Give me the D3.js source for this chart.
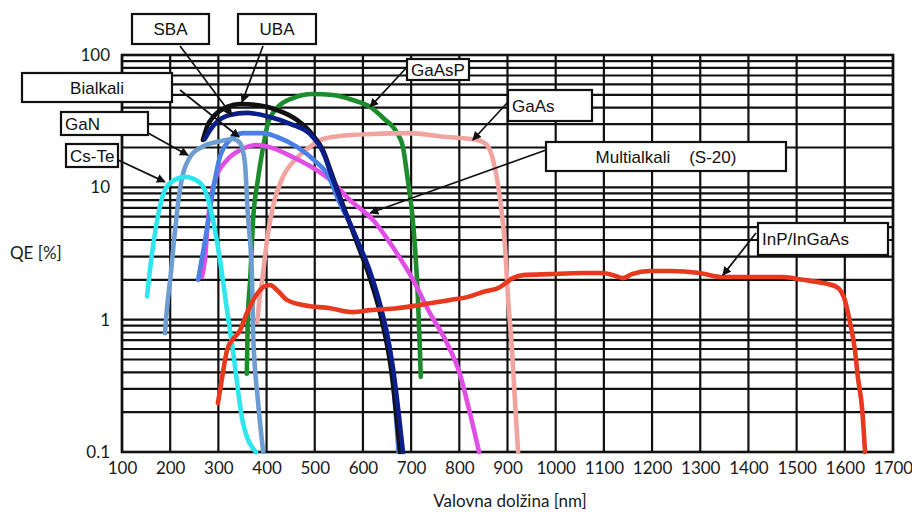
<!DOCTYPE html>
<html>
<head>
<meta charset="utf-8">
<script src="https://cdn.jsdelivr.net/npm/d3@7/dist/d3.min.js"></script>
<style>
  html, body { margin: 0; padding: 0; background: #fff; }
  svg { display: block; }
</style>
</head>
<body>
<svg id="chart" width="912" height="512"></svg>
<script>
// ---------- data ----------
const xTicks = [100,200,300,400,500,600,700,800,900,1000,1100,1200,1300,1400,1500,1600,1700];
const yTickLabels = [0.1, 1, 10, 100];
const yGridValues = [0.1,0.2,0.3,0.4,0.5,0.6,0.7,0.8,0.9,1,2,3,4,5,6,7,8,9,10,20,30,40,50,60,70,80,90,100];

const csTe = [[152,1.5],[158,2.37],[173,5.66],[185,8.75],[200,10.8],[231,12],[262,10.8],[283,7.1],[299,3.54],[320,1.05],[330,0.59],[351,0.166],[378,0.1]];
const gaN = [[189,0.79],[195,1.41],[200,2.0],[208,4.0],[220,9.5],[241,16.9],[266,20.2],[297,22],[330,23.2],[345,21.6],[355,15.3],[361,6.4],[370,2.0],[372,0.79],[382,0.247],[393,0.1]];
const bialkali = [[258,2.0],[276,4.76],[289,9.5],[303,16.9],[324,22.8],[351,25.7],[393,25.7],[422,24],[463,20.2],[505,15.3],[525,12.8],[552,7.6],[579,4.76],[608,2.5],[629,1.41],[656,0.59],[674,0.1]];
const sba = [[272,23.2],[283,27.1],[297,31.2],[324,35.2],[359,36.5],[407,34],[449,30.2],[490,25.3],[517,18.5],[538,11.4],[559,7.1],[588,4.0],[615,2.29],[642,1.05],[662,0.44],[683,0.1]];
const uba = [[268,22.8],[278,29.6],[289,34],[318,40.5],[345,42.6],[380,41.9],[422,38.4],[463,32.3],[496,24.8],[517,19.1],[536,12.4],[560,7.1],[587,3.86],[612,2.2],[639,1.0],[659,0.41],[677,0.1]];
const multialkali = [[266,2.1],[272,2.82],[278,5.37],[293,11.4],[318,16.1],[345,19.1],[380,20.9],[413,19.8],[455,16.9],[490,14.5],[532,11.4],[573,8.0],[621,5.66],[662,3.54],[704,2.0],[739,1.12],[774,0.67],[801,0.39],[822,0.197],[841,0.1]];
const gaAsP = [[359,0.39],[361,1.0],[366,2.0],[372,5.66],[382,11.4],[393,20.2],[403,30.6],[422,39.8],[455,47.3],[496,50.7],[538,49.9],[579,45.7],[615,40.5],[642,33.4],[671,25.7],[683,20.2],[693,11.4],[702,6.4],[708,3.54],[714,1.48],[718,0.62],[720,0.37]];
const gaAs = [[381,0.96],[385,1.41],[391,2.0],[401,4.0],[413,7.1],[434,12],[463,16.7],[490,20.2],[517,23.2],[552,24.4],[621,25.3],[691,25.7],[774,24],[837,22.8],[857,20.9],[870,16.1],[884,8.45],[895,3.54],[901,1.48],[909,0.62],[915,0.26],[922,0.1]];
const inGaAs = [[299,0.234],[308,0.37],[318,0.59],[330,0.71],[345,0.83],[359,1.12],[376,1.48],[393,1.76],[407,1.83],[422,1.67],[442,1.41],[476,1.29],[532,1.22],[579,1.14],[615,1.18],[671,1.22],[739,1.33],[781,1.41],[816,1.48],[849,1.62],[884,1.76],[911,2.06],[932,2.17],[988,2.21],[1057,2.25],[1098,2.25],[1119,2.17],[1140,2.06],[1158,2.21],[1196,2.33],[1237,2.33],[1299,2.25],[1347,2.1],[1403,2.1],[1472,2.1],[1513,2.0],[1555,1.89],[1584,1.76],[1600,1.41],[1611,0.94],[1621,0.59],[1627,0.37],[1636,0.21],[1642,0.1]];

const seriesNames = ["GaAsP","GaAs","Multialkali (S-20)","Bialkali","UBA","SBA","GaN","Cs-Te","InP/InGaAs"];
const seriesData  = [gaAsP, gaAs, multialkali, bialkali, uba, sba, gaN, csTe, inGaAs];
const seriesColors = ["#1c8c2c","#f1a3a0","#e04ee6","#4a7fe3","#111111","#0c1e8a","#6d9dd3","#2ee6ee","#e8381e"];

// annotation labels: text, and arrow tip in data units [nm, QE]
const labelTexts = ["SBA","UBA","Bialkali","GaN","Cs-Te","GaAsP","GaAs","Multialkali    (S-20)","InP/InGaAs"];
const arrowTips = [[328,35],[349,44],[343,24],[237,17.5],[189,11],[615,40.5],[828,22.8],[615,6.4],[1347,2.17]];

// ---------- layout ----------
const plot = {left: 122, right: 893, top: 55, bottom: 452};
const boxes = [
  {x:132, y:14, w:77, h:30, anchor:"middle", from:[180,46]},
  {x:238, y:14, w:78, h:30, anchor:"middle", from:[263,46]},
  {x:22,  y:73, w:150, h:29, anchor:"middle", from:[180,90]},
  {x:61,  y:112, w:87, h:23, anchor:"start", from:[148,133]},
  {x:66,  y:144, w:52, h:23, anchor:"start", from:[118,160]},
  {x:407, y:59, w:62, h:21, anchor:"start", from:[408,66]},
  {x:508, y:90, w:84, h:31, anchor:"start", from:[508,102]},
  {x:546, y:142, w:240, h:29, anchor:"middle", from:[546,150]},
  {x:758, y:223, w:130, h:32, anchor:"start", from:[756,233]}
];

const svg = d3.select("#chart");
const x = d3.scaleLinear().domain([100,1700]).range([plot.left, plot.right]);
const y = d3.scaleLog().domain([0.1,100]).range([plot.bottom, plot.top]);
const axisFont = "Lato, 'Open Sans', sans-serif";

// grid
const grid = svg.append("g").attr("stroke","#111").attr("stroke-width",2.2);
grid.selectAll("line.h").data(yGridValues).join("line")
  .attr("x1", plot.left).attr("x2", plot.right)
  .attr("y1", d => y(d)).attr("y2", d => y(d));
grid.selectAll("line.v").data(xTicks).join("line")
  .attr("y1", plot.top).attr("y2", plot.bottom)
  .attr("x1", d => x(d)).attr("x2", d => x(d));
svg.append("rect").attr("x",plot.left).attr("y",plot.top)
  .attr("width",plot.right-plot.left).attr("height",plot.bottom-plot.top)
  .attr("fill","none").attr("stroke","#111").attr("stroke-width",2.6);

// axes (labels only)
const xAxis = d3.axisBottom(x).tickValues(xTicks).tickSize(0).tickPadding(10).tickFormat(d3.format("d"));
const gx = svg.append("g").attr("transform",`translate(0,${plot.bottom})`).call(xAxis);
gx.select(".domain").remove();
gx.selectAll("text").attr("font-family",axisFont).attr("font-size",17).attr("fill","#1a1a1a");

const yAxis = d3.axisLeft(y).tickValues(yTickLabels).tickSize(0).tickPadding(12).tickFormat(d => d < 1 ? String(d) : d3.format("d")(d));
const gy = svg.append("g").attr("transform",`translate(${plot.left},0)`).call(yAxis);
gy.select(".domain").remove();
gy.selectAll("text").attr("font-family",axisFont).attr("font-size",17).attr("fill","#1a1a1a");

// axis titles
svg.append("text").attr("x",10).attr("y",259).text("QE [%]")
  .attr("font-family",axisFont).attr("font-size",17).attr("fill","#1a1a1a");
svg.append("text").attr("x",510).attr("y",507).attr("text-anchor","middle").text("Valovna dolžina [nm]")
  .attr("font-family",axisFont).attr("font-size",17).attr("fill","#1a1a1a");

// curves
const line = d3.line().x(d => x(d[0])).y(d => y(d[1])).curve(d3.curveMonotoneX);
svg.append("g").selectAll("path").data(seriesData).join("path")
  .attr("d", line)
  .attr("fill","none")
  .attr("stroke",(d,i) => seriesColors[i])
  .attr("stroke-width",4.6)
  .attr("stroke-linecap","round")
  .attr("stroke-linejoin","round");

// arrow marker
svg.append("defs").append("marker").attr("id","arr")
  .attr("viewBox","0 0 10 10").attr("refX",9).attr("refY",5)
  .attr("markerWidth",9).attr("markerHeight",9).attr("markerUnits","userSpaceOnUse")
  .attr("orient","auto")
  .append("path").attr("d","M0,0 L10,5 L0,10 Z").attr("fill","#111");

// annotations
const ann = svg.append("g");
ann.selectAll("line").data(boxes).join("line")
  .attr("x1", d => d.from[0]).attr("y1", d => d.from[1])
  .attr("x2", (d,i) => x(arrowTips[i][0])).attr("y2", (d,i) => y(arrowTips[i][1]))
  .attr("stroke","#111").attr("stroke-width",1.7).attr("marker-end","url(#arr)");

const bg = ann.selectAll("g.box").data(boxes).join("g").attr("class","box");
bg.append("rect").attr("x", d => d.x).attr("y", d => d.y)
  .attr("width", d => d.w).attr("height", d => d.h)
  .attr("fill","#fff").attr("stroke","#111").attr("stroke-width",2.2);
bg.append("text")
  .attr("x", d => d.anchor === "middle" ? d.x + d.w/2 : d.x + 4)
  .attr("y", d => d.y + d.h/2 + 6)
  .attr("text-anchor", d => d.anchor)
  .style("white-space","pre")
  .attr("font-family","'Liberation Sans', Arial, sans-serif").attr("font-size",17).attr("fill","#111")
  .text((d,i) => labelTexts[i]);
</script>
</body>
</html>
